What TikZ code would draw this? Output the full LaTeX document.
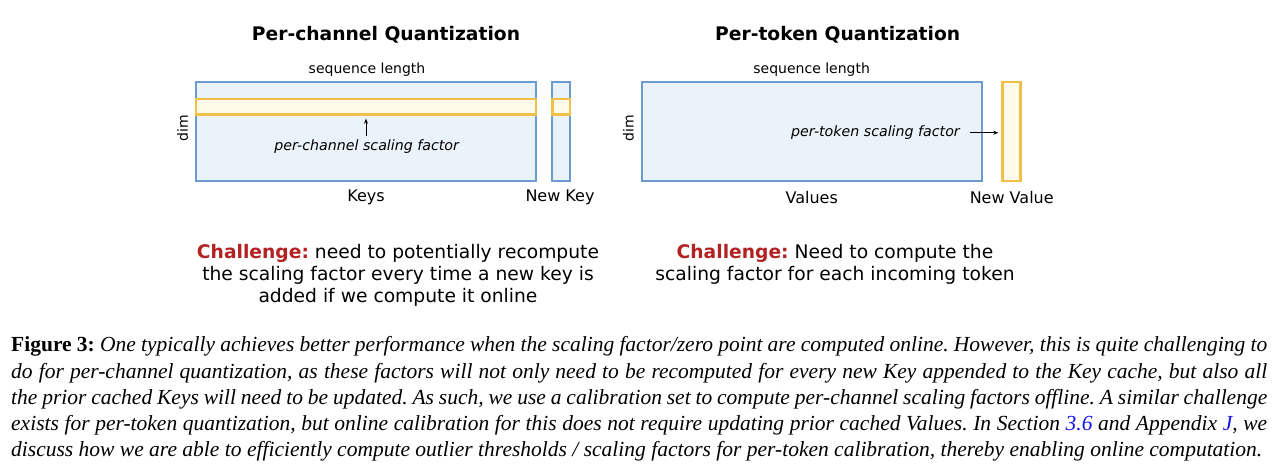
\documentclass[tikz,border=0pt]{standalone}
\usepackage{fontspec}
\setmainfont{Liberation Serif}
\newfontfamily\dvs{DejaVu Sans}
\usetikzlibrary{arrows.meta}
\definecolor{bborder}{RGB}{108,154,209}
\definecolor{bfill}{RGB}{234,242,250}
\definecolor{yborder}{RGB}{241,192,72}
\definecolor{yfill}{RGB}{254,251,235}
\definecolor{chred}{RGB}{178,34,34}
\definecolor{refblue}{RGB}{20,20,230}
\frenchspacing
\begin{document}
\begin{tikzpicture}[x=1pt,y=-1pt,
  bluebox/.style={draw=bborder,fill=bfill,line width=2.2pt,inner sep=0pt,outer sep=0pt,anchor=north west},
  yelbox/.style={draw=yborder,fill=yfill,line width=2.6pt,inner sep=0pt,outer sep=0pt,anchor=north west},
  lab/.style={font=\dvs\fontsize{16}{19}\selectfont,inner sep=0pt},
  smalltxt/.style={font=\dvs\fontsize{14}{17}\selectfont,inner sep=0pt},
  ttl/.style={font=\dvs\bfseries\fontsize{18.7}{22}\selectfont,inner sep=0pt},
  chal/.style={font=\dvs\fontsize{18.7}{22}\selectfont,align=center,inner sep=0pt},
  captxt/.style={font=\fontsize{21.5}{26}\selectfont,anchor=west,inner sep=0pt},
  arr/.style={-{Stealth[length=5pt,width=4pt]},line width=0.8pt}]
\useasboundingbox (0,0) rectangle (1280,475);
% left panel
\node[ttl] (t1) at (386,35) {Per-channel Quantization};
\node[smalltxt] (sl1) at (367,69.3) {sequence length};
\node[bluebox,minimum width=340pt,minimum height=99pt] (keys) at (196,82) {};
\node[yelbox,minimum width=340pt,minimum height=15.7pt] (band) at (196,99) {};
\node[bluebox,minimum width=17.7pt,minimum height=99pt] (newkey) at (552.3,82) {};
\node[yelbox,minimum width=17.7pt,minimum height=15.7pt] (nkband) at (552.3,99) {};
\node[smalltxt,rotate=90] (dim1) at (182.7,128) {dim};
\node[smalltxt,font=\dvs\itshape\fontsize{14.2}{17}\selectfont] (pcsf) at (366.7,146.7) {per-channel scaling factor};
\draw[arr,shorten <=4pt,shorten >=4pt] (pcsf.north -| band.south) -- (band.south);
\node[lab] (klab) at (366,197.7) {Keys};
\node[lab] (nklab) at (560,197.7) {New Key};
% right panel
\node[ttl] (t2) at (837.7,35) {Per-token Quantization};
\node[smalltxt] (sl2) at (811.7,69.3) {sequence length};
\node[bluebox,minimum width=340pt,minimum height=99pt] (vals) at (641.7,82) {};
\node[yelbox,minimum width=18pt,minimum height=99pt] (newval) at (1002.7,82) {};
\node[smalltxt,rotate=90] (dim2) at (628.3,128) {dim};
\node[smalltxt,font=\dvs\itshape\fontsize{14.2}{17}\selectfont,anchor=east] (ptsf) at (960,132.7) {per-token scaling factor};
\draw[arr,shorten <=10pt,shorten >=4.4pt] (ptsf.east) -- (ptsf.east -| newval.west);
\node[lab] (vlab) at (811.7,197.7) {Values};
\node[lab] (nvlab) at (1011.7,197.7) {New Value};
% challenges
\node[chal] (ch1) at (398,275) {{\bfseries\color{chred}Challenge:} need to potentially recompute\\the scaling factor every time a new key is\\added if we compute it online};
\node[chal] (ch2) at (835,264.2) {{\bfseries\color{chred}Challenge:} Need to compute the\\scaling factor for each incoming token};
% caption
\node[captxt] (c1) at (11,346.7) {\makebox[1256pt][s]{\textbf{Figure 3:} \textit{One typically achieves better performance when the scaling factor/zero point are computed online. However, this is quite challenging to}}};
\node[captxt] (c2) at (11,373.3) {\makebox[1256pt][s]{\textit{do for per-channel quantization, as these factors will not only need to be recomputed for every new Key appended to the Key cache, but also all}}};
\node[captxt] (c3) at (11,399.5) {\makebox[1256pt][s]{\textit{the prior cached Keys will need to be updated. As such, we use a calibration set to compute per-channel scaling factors offline. A similar challenge}}};
\node[captxt] (c4) at (11,425.5) {\makebox[1256pt][s]{\textit{exists for per-token quantization, but online calibration for this does not require updating prior cached Values. In Section \textcolor{refblue}{3.6} and Appendix \textcolor{refblue}{J}, we}}};
\node[captxt] (c5) at (11,451.5) {\makebox[1251pt][s]{\textit{discuss how we are able to efficiently compute outlier thresholds / scaling factors for per-token calibration, thereby enabling online computation.}}};
\end{tikzpicture}
\end{document}
